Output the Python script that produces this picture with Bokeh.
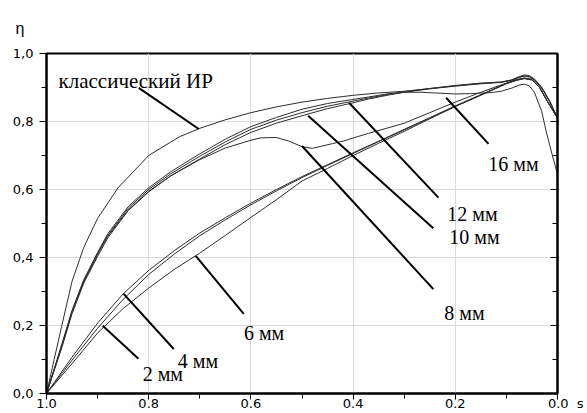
from bokeh.plotting import figure
from bokeh.models import Range1d, FixedTicker, LinearAxis, CustomJSTickFormatter
from bokeh.core.properties import value
from bokeh.embed import file_html
from bokeh.resources import INLINE

# ---- data (s decreasing from 1 to 0) ----
classic_s = [1.0, 0.985, 0.97, 0.95, 0.927, 0.9, 0.86, 0.8, 0.74, 0.7, 0.65, 0.6, 0.55, 0.5, 0.45,
             0.4, 0.35, 0.3, 0.25, 0.2, 0.15, 0.11, 0.09, 0.075, 0.065, 0.055, 0.045, 0.03, 0.015, 0.0]
classic_eta = [0.0, 0.10, 0.20, 0.33, 0.43, 0.515, 0.605, 0.70, 0.755, 0.78, 0.805, 0.826, 0.843, 0.857,
               0.868, 0.877, 0.884, 0.889, 0.897, 0.906, 0.913, 0.916, 0.922, 0.932, 0.937, 0.935, 0.925,
               0.899, 0.86, 0.81]

s16 = [1.0, 0.97, 0.95, 0.927, 0.9, 0.88, 0.84, 0.8, 0.757, 0.7, 0.65, 0.6, 0.55, 0.5, 0.45, 0.4,
       0.37, 0.33, 0.3, 0.267, 0.24, 0.2, 0.17, 0.13, 0.11, 0.09, 0.075, 0.065, 0.055, 0.045, 0.031,
       0.022, 0.01, 0.0]
eta16 = [0.0, 0.145, 0.245, 0.335, 0.415, 0.47, 0.55, 0.605, 0.652, 0.705, 0.748, 0.785, 0.812, 0.836,
         0.853, 0.865, 0.872, 0.882, 0.886, 0.886, 0.884, 0.881, 0.882, 0.885, 0.889, 0.898, 0.907,
         0.91, 0.905, 0.885, 0.83, 0.77, 0.70, 0.645]

s_upper = [1.0, 0.97, 0.95, 0.927, 0.9, 0.88, 0.84, 0.8, 0.757, 0.7, 0.65, 0.6, 0.55, 0.5, 0.45, 0.4,
           0.37, 0.33, 0.3, 0.25, 0.2, 0.15, 0.11, 0.09, 0.075, 0.065, 0.055, 0.045, 0.03, 0.015, 0.0]
eta12 = [0.0, 0.14, 0.24, 0.33, 0.41, 0.465, 0.545, 0.60, 0.646, 0.698, 0.74, 0.777, 0.804, 0.826,
         0.845, 0.86, 0.869, 0.88, 0.887, 0.897, 0.905, 0.912, 0.916, 0.922, 0.931, 0.934, 0.932,
         0.923, 0.897, 0.858, 0.81]
eta10 = [0.0, 0.135, 0.235, 0.325, 0.403, 0.458, 0.538, 0.593, 0.64, 0.69, 0.732, 0.768, 0.795, 0.817,
         0.838, 0.855, 0.866, 0.878, 0.886, 0.896, 0.904, 0.911, 0.915, 0.921, 0.93, 0.933, 0.931,
         0.922, 0.896, 0.857, 0.81]

s8 = [1.0, 0.97, 0.95, 0.927, 0.9, 0.88, 0.84, 0.8, 0.757, 0.7, 0.65, 0.6, 0.58, 0.55, 0.525, 0.5,
      0.48, 0.463, 0.44, 0.418, 0.39, 0.37, 0.33, 0.3, 0.25, 0.2, 0.15, 0.1, 0.08, 0.065, 0.05, 0.035,
      0.02, 0.0]
eta8 = [0.0, 0.14, 0.24, 0.33, 0.41, 0.463, 0.54, 0.595, 0.64, 0.688, 0.722, 0.745, 0.752, 0.753,
        0.742, 0.726, 0.721, 0.727, 0.735, 0.743, 0.756, 0.765, 0.782, 0.795, 0.826, 0.857, 0.886,
        0.913, 0.924, 0.928, 0.924, 0.9, 0.86, 0.81]

s_lower = [1.0, 0.95, 0.9, 0.85, 0.8, 0.75, 0.7, 0.65, 0.6, 0.55, 0.5, 0.45, 0.4, 0.35, 0.3, 0.25,
           0.2, 0.15, 0.1, 0.08, 0.065, 0.05, 0.035, 0.02, 0.0]
eta6 = [0.0, 0.088, 0.178, 0.25, 0.31, 0.365, 0.413, 0.465, 0.518, 0.57, 0.625, 0.662, 0.70, 0.736,
        0.771, 0.808, 0.844, 0.877, 0.911, 0.921, 0.926, 0.922, 0.9, 0.86, 0.81]
eta4 = [0.0, 0.107, 0.207, 0.293, 0.362, 0.42, 0.472, 0.517, 0.56, 0.6, 0.638, 0.673, 0.708, 0.742,
        0.777, 0.811, 0.846, 0.879, 0.912, 0.922, 0.927, 0.923, 0.9, 0.86, 0.81]
eta2 = [0.0, 0.098, 0.192, 0.277, 0.35, 0.41, 0.464, 0.511, 0.555, 0.596, 0.635, 0.671, 0.706, 0.741,
        0.775, 0.81, 0.845, 0.878, 0.912, 0.922, 0.927, 0.923, 0.9, 0.86, 0.81]

# annotation texts and leader positions (data coordinates)
label_texts = ["классический ИР", "16 мм", "12 мм", "10 мм", "8 мм", "6 мм", "4 мм", "2 мм"]
label_sizes = ["21px", "20px", "20px", "20px", "20px", "20px", "20px", "20px"]
label_s = [0.9765, 0.1353, 0.2157, 0.2118, 0.2216, 0.6137, 0.7431, 0.8118]
label_eta = [0.920, 0.676, 0.5285, 0.461, 0.2374, 0.1785, 0.0962, 0.0579]
leader_s0 = [0.8196, 0.218, 0.408, 0.488, 0.500, 0.708, 0.849, 0.890]
leader_eta0 = [0.899, 0.870, 0.855, 0.817, 0.728, 0.405, 0.293, 0.199]
leader_s1 = [0.702, 0.135, 0.233, 0.243, 0.243, 0.614, 0.751, 0.820]
leader_eta1 = [0.778, 0.734, 0.576, 0.486, 0.307, 0.234, 0.131, 0.102]

x_ticks = [1.0, 0.8, 0.6, 0.4, 0.2, 0.0]
x_minor = [0.9, 0.7, 0.5, 0.3, 0.1]
y_ticks = [0.0, 0.2, 0.4, 0.6, 0.8, 1.0]
y_minor = [0.1, 0.3, 0.5, 0.7, 0.9]
y_title = "η"
x_title = "s"

p = figure(width=587, height=413, x_range=Range1d(1.0, 0.0), y_range=Range1d(0.0, 1.0),
           output_backend="svg", toolbar_location=None,
           min_border_left=46, min_border_right=30, min_border_top=53, min_border_bottom=20)
p.background_fill_color = "white"
p.border_fill_color = "white"
p.outline_line_color = "black"
p.outline_line_width = 2

# eta label at the top-left, as the plot title
p.title.text = y_title
p.title.align = "left"
p.title.offset = -31
p.title.standoff = 30
p.title.vertical_align = "top"
p.title.text_font = "Liberation Sans"
p.title.text_font_size = "16px"
p.title.text_font_style = "normal"
p.title.text_color = "black"

xt = FixedTicker(ticks=x_ticks, minor_ticks=x_minor)
yt = FixedTicker(ticks=y_ticks, minor_ticks=y_minor)

xa = p.xaxis[0]
xa.ticker = xt
xa.formatter = CustomJSTickFormatter(args=dict(t=x_title), code=r"""
if (Math.abs(tick) < 1e-9) { return '\u00a0\u00a0\u00a0\u00a0' + tick.toFixed(1) + '\u00a0\u00a0' + t; }
return tick.toFixed(1);
""")
ya = p.yaxis[0]
ya.ticker = yt
ya.formatter = CustomJSTickFormatter(code="return tick.toFixed(1).replace('.', ',');")

for ax, out, sto in ((xa, 6, -4), (ya, 7, 6)):
    ax.axis_line_width = 2
    ax.axis_line_color = "black"
    ax.major_tick_in = 0
    ax.major_tick_out = out
    ax.minor_tick_in = 0
    ax.minor_tick_out = 5
    ax.major_tick_line_color = "black"
    ax.minor_tick_line_color = "black"
    ax.major_label_standoff = sto
    ax.major_label_text_font = "DejaVu Sans"
    ax.major_label_text_font_size = "13px"
    ax.major_label_text_color = "black"

ra = LinearAxis(ticker=yt, axis_line_width=2, axis_line_color="black",
                major_tick_in=7, major_tick_out=0, minor_tick_in=5, minor_tick_out=0,
                major_label_text_font_size="0px",
                formatter=CustomJSTickFormatter(code="return '';"))
p.add_layout(ra, "right")

p.xgrid.ticker = xt
p.ygrid.ticker = yt
p.xgrid.grid_line_color = "#d9d9d9"
p.ygrid.grid_line_color = "#d9d9d9"

curve_color = "#2e2e2e"
curves = [(classic_s, classic_eta), (s16, eta16), (s_upper, eta12), (s_upper, eta10), (s8, eta8),
          (s_lower, eta6), (s_lower, eta4), (s_lower, eta2)]
for xs, ys in curves:
    p.line(xs, ys, line_color=curve_color, line_width=1)

p.segment(x0=leader_s0, y0=leader_eta0, x1=leader_s1, y1=leader_eta1, line_color="black", line_width=2)

p.text(x=label_s, y=label_eta, text=label_texts, text_font=value("Liberation Serif"),
       text_font_size=label_sizes, text_align="left", text_baseline="alphabetic", text_color="black")

open("out.html", "w").write(file_html(p, INLINE))
